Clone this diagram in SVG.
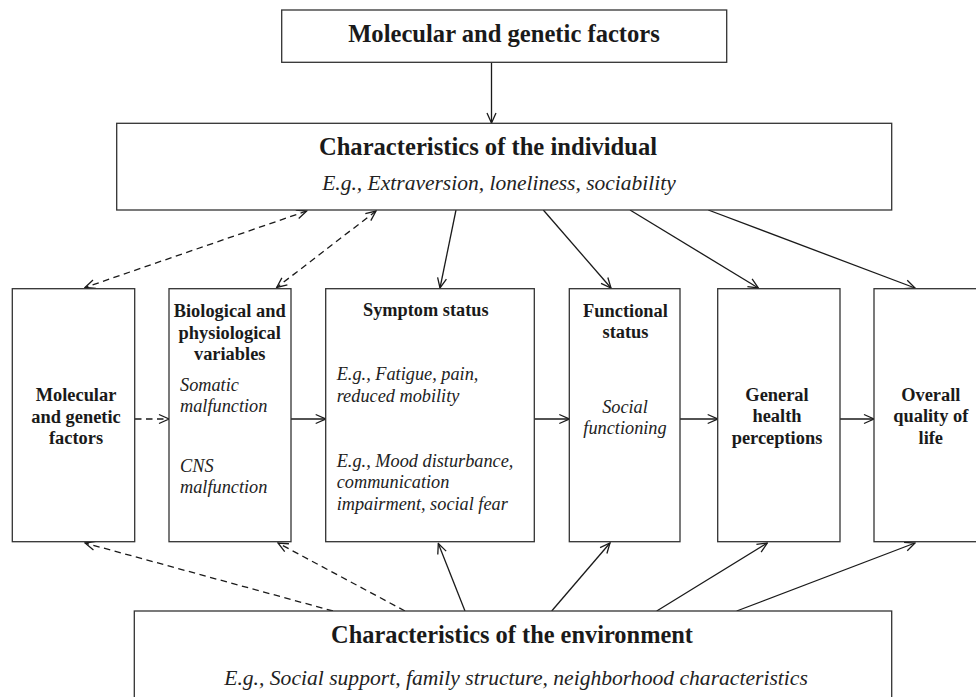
<svg xmlns="http://www.w3.org/2000/svg" width="976" height="697" viewBox="0 0 976 697">
<style>
.box{fill:#fff;stroke:#333;stroke-width:1.3}
.b{font-family:"Liberation Serif","Times New Roman",serif;font-weight:bold;fill:#1a1a1a}
.i{font-family:"Liberation Serif","Times New Roman",serif;font-style:italic;fill:#222}
.c{text-anchor:middle}
.ln{fill:none;stroke:#1a1a1a;stroke-width:1.3}
.d{stroke-dasharray:6.5 4.5}
.s{marker-end:url(#ah)}
.bi{marker-end:url(#ah);marker-start:url(#ahs)}
</style>
<defs>
<marker id="ah" viewBox="0 0 12 12" refX="11" refY="6" markerWidth="12" markerHeight="12" markerUnits="userSpaceOnUse" orient="auto">
<path d="M1,1.5 L11,6 L1,10.5" fill="none" stroke="#1a1a1a" stroke-width="1.3" stroke-dasharray="none"/>
</marker>
<marker id="ahs" viewBox="0 0 12 12" refX="11" refY="6" markerWidth="12" markerHeight="12" markerUnits="userSpaceOnUse" orient="auto-start-reverse">
<path d="M1,1.5 L11,6 L1,10.5" fill="none" stroke="#1a1a1a" stroke-width="1.3" stroke-dasharray="none"/>
</marker>
</defs>
<rect width="976" height="697" fill="#fff"/>

<g id="connectors">
<line class="ln s" x1="491.5" y1="62.5" x2="491.5" y2="123"/>
<line class="ln d bi" x1="306.7" y1="211" x2="85" y2="287.5"/>
<line class="ln d bi" x1="376" y1="211" x2="276.7" y2="287.5"/>
<line class="ln s" x1="456" y1="210" x2="440" y2="288"/>
<line class="ln s" x1="543.3" y1="210" x2="611" y2="288"/>
<line class="ln s" x1="630" y1="210" x2="758.3" y2="288"/>
<line class="ln s" x1="708.3" y1="210" x2="915" y2="288"/>
<line class="ln d s" x1="135" y1="419" x2="169" y2="419"/>
<line class="ln s" x1="291" y1="419" x2="325.7" y2="419"/>
<line class="ln s" x1="534.3" y1="419" x2="569.3" y2="419"/>
<line class="ln s" x1="680" y1="419" x2="717.7" y2="419"/>
<line class="ln s" x1="840" y1="419" x2="874" y2="419"/>
<line class="ln d s" x1="333" y1="611" x2="85" y2="543"/>
<line class="ln d s" x1="405" y1="611" x2="278" y2="543"/>
<line class="ln s" x1="465" y1="611" x2="438.3" y2="543.5"/>
<line class="ln s" x1="551.7" y1="611" x2="610" y2="543"/>
<line class="ln s" x1="656.7" y1="611" x2="767.3" y2="543"/>
<line class="ln s" x1="736.7" y1="611" x2="915" y2="543"/>
</g>

<g id="top-molecular">
<rect class="box" x="281.7" y="10" width="445" height="52.3"/>
<text class="b c" x="504" y="42" font-size="24.6">Molecular and genetic factors</text>
</g>

<g id="individual">
<rect class="box" x="116.7" y="123.3" width="775" height="86.7"/>
<text class="b c" x="488" y="155" font-size="24.6">Characteristics of the individual</text>
<text class="i c" x="499" y="190" font-size="21.5">E.g., Extraversion, loneliness, sociability</text>
</g>

<g id="molecular">
<rect class="box" x="12.3" y="288.7" width="122.4" height="253"/>
<text class="b c" font-size="18.4"><tspan x="76" y="401">Molecular</tspan><tspan x="76" y="422.5">and genetic</tspan><tspan x="76" y="444">factors</tspan></text>
</g>

<g id="biological">
<rect class="box" x="169" y="288.7" width="122" height="253"/>
<text class="b c" font-size="18.4"><tspan x="229.7" y="317">Biological and</tspan><tspan x="229.7" y="338.7">physiological</tspan><tspan x="229.7" y="360.3">variables</tspan></text>
<text class="i" font-size="18.3"><tspan x="180" y="390.5">Somatic</tspan><tspan x="180" y="411.7">malfunction</tspan><tspan x="180" y="471.7">CNS</tspan><tspan x="180" y="493.3">malfunction</tspan></text>
</g>

<g id="symptom">
<rect class="box" x="325.7" y="288.7" width="208.6" height="253"/>
<text class="b c" x="425.8" y="315.5" font-size="18.3">Symptom status</text>
<text class="i" font-size="18.3"><tspan x="336.7" y="379.5">E.g., Fatigue, pain,</tspan><tspan x="336.7" y="401.5">reduced mobility</tspan><tspan x="336.7" y="466.7">E.g., Mood disturbance,</tspan><tspan x="336.7" y="488.3">communication</tspan><tspan x="336.7" y="509.5">impairment, social fear</tspan></text>
</g>

<g id="functional">
<rect class="box" x="569.3" y="288.7" width="110.7" height="253"/>
<text class="b c" font-size="18.4"><tspan x="625.5" y="316.7">Functional</tspan><tspan x="625.5" y="338.3">status</tspan></text>
<text class="i c" font-size="18.3"><tspan x="625" y="412.7">Social</tspan><tspan x="625" y="434">functioning</tspan></text>
</g>

<g id="general">
<rect class="box" x="717.7" y="288.7" width="122.3" height="253"/>
<text class="b c" font-size="18.4"><tspan x="777" y="400.5">General</tspan><tspan x="777" y="422">health</tspan><tspan x="777" y="443.7">perceptions</tspan></text>
</g>

<g id="overall">
<rect class="box" x="874" y="288.7" width="114" height="253"/>
<text class="b c" font-size="18.4"><tspan x="930.8" y="400.5">Overall</tspan><tspan x="930.8" y="422">quality of</tspan><tspan x="930.8" y="443.7">life</tspan></text>
</g>

<g id="environment">
<rect class="box" x="134.3" y="611" width="757.4" height="110"/>
<text class="b c" x="512" y="643" font-size="24.4">Characteristics of the environment</text>
<text class="i c" x="516" y="685" font-size="21.6">E.g., Social support, family structure, neighborhood characteristics</text>
</g>
</svg>
